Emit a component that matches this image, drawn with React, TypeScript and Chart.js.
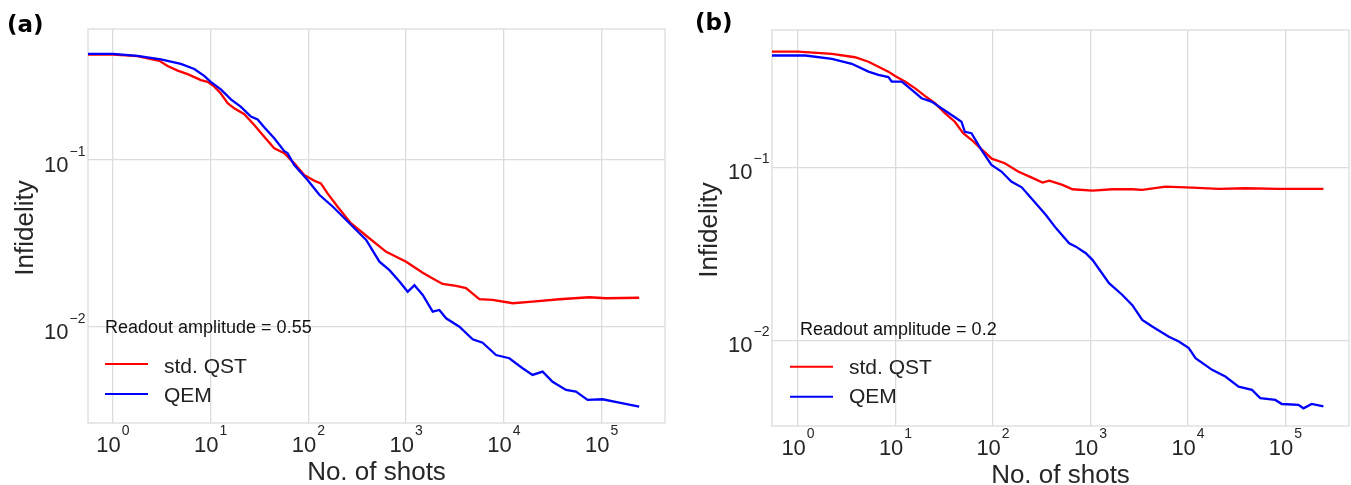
import React, { useEffect, useRef } from "react";
import { Chart, registerables } from "chart.js";

Chart.register(...registerables);

// ---------- DATA ----------
// Panel (a): readout amplitude 0.55
const shotsQstA = [0.555, 1, 1.78, 2.98, 3.62, 4.59, 5.81, 7.94, 9.29, 10.9, 12.7, 14.9, 17.4, 22.1, 27.9, 35.3, 44.7, 56.6, 71.6, 90.6, 115, 134, 157, 199, 272, 402, 625, 1000, 1479, 1871, 2366, 3243, 4102, 5610, 7674, 12300, 19680, 36900, 74820, 110900, 242700];
const infQstA = [0.428, 0.428, 0.419, 0.393, 0.366, 0.343, 0.327, 0.301, 0.294, 0.275, 0.25, 0.219, 0.204, 0.188, 0.162, 0.138, 0.1175, 0.1097, 0.0955, 0.0813, 0.0751, 0.0725, 0.0631, 0.0525, 0.0418, 0.0347, 0.0282, 0.0246, 0.0211, 0.0195, 0.0181, 0.0176, 0.0171, 0.01466, 0.01452, 0.01387, 0.01417, 0.01466, 0.01507, 0.01486, 0.01496];
const shotsQemA = [0.555, 1, 1.78, 3.09, 4.95, 6.79, 8.59, 10, 12.7, 16.1, 20.4, 25.8, 30.2, 35.3, 44.7, 56.6, 61.1, 71.6, 98, 130, 178, 263, 390, 533, 675, 855, 1038, 1216, 1479, 1871, 2188, 2564, 3508, 4797, 6067, 8318, 11376, 15560, 19680, 24950, 31550, 43250, 54700, 71940, 102300, 151700, 242700];
const infQemA = [0.432, 0.432, 0.421, 0.401, 0.376, 0.351, 0.319, 0.294, 0.265, 0.231, 0.208, 0.182, 0.175, 0.157, 0.135, 0.113, 0.11, 0.0933, 0.0759, 0.0617, 0.0525, 0.0418, 0.0332, 0.0246, 0.0219, 0.0187, 0.01626, 0.0178, 0.01555, 0.01236, 0.01265, 0.01127, 0.01004, 0.00844, 0.00805, 0.00679, 0.0065, 0.00566, 0.00516, 0.0054, 0.0047, 0.0042, 0.0041, 0.00366, 0.00369, 0.00352, 0.00333];

// Panel (b): readout amplitude 0.2
const shotsQstB = [0.541, 1, 2.23, 3.85, 5.28, 6.68, 8.45, 9.89, 12.5, 15.8, 20.0, 25.4, 32.1, 40.6, 49.4, 60.1, 76.0, 97, 132, 181, 250, 322, 378, 516, 653, 1047, 1675, 2685, 3396, 5888, 11020, 20650, 38730, 84720, 244900];
const infQstB = [0.465, 0.465, 0.451, 0.431, 0.406, 0.38, 0.356, 0.336, 0.312, 0.286, 0.258, 0.234, 0.205, 0.183, 0.157, 0.144, 0.127, 0.112, 0.1054, 0.0944, 0.087, 0.0815, 0.0837, 0.079, 0.0746, 0.0733, 0.0746, 0.0746, 0.074, 0.0772, 0.0762, 0.075, 0.0756, 0.075, 0.075];
const shotsQemB = [0.541, 1.19, 2.23, 3.56, 5.28, 6.68, 8.45, 9.14, 11.6, 14.7, 18.5, 23.4, 29.6, 37.6, 47.5, 51.4, 60.1, 76.0, 96.4, 122, 154, 197, 255, 349, 442, 604, 708, 895, 1047, 1549, 2123, 2685, 3396, 4295, 6368, 8054, 10190, 11940, 17660, 24150, 33040, 45290, 55080, 78520, 91830, 135800, 152800, 185800, 244900];
const infQemB = [0.441, 0.441, 0.422, 0.395, 0.356, 0.341, 0.331, 0.312, 0.312, 0.279, 0.25, 0.239, 0.219, 0.2, 0.183, 0.16, 0.157, 0.126, 0.103, 0.0944, 0.0826, 0.0765, 0.0648, 0.053, 0.0445, 0.0364, 0.0348, 0.0319, 0.0292, 0.0214, 0.0183, 0.016, 0.01314, 0.01203, 0.01052, 0.00986, 0.00903, 0.0079, 0.00677, 0.00619, 0.00542, 0.00519, 0.00465, 0.00454, 0.0043, 0.00425, 0.00406, 0.0043, 0.00416];

const xTickValues = [1, 10, 100, 1000, 10000, 100000];
const xTickExponents = ["0", "1", "2", "3", "4", "5"];
const yTickValues = [0.01, 0.1];
const yTickExponents = ["\u22122", "\u22121"];

const seriesLabels = ["std. QST", "QEM"];
const panelLetters = ["(a)", "(b)"];
const legendTitles = ["Readout amplitude = 0.55", "Readout amplitude = 0.2"];
const xAxisTitle = "No. of shots";
const yAxisTitle = "Infidelity";

// ---------- STYLE / LAYOUT ----------
const FONT = '"Liberation Sans", Arial, Helvetica, sans-serif';
const BOLD_FONT = '"DejaVu Sans", "Liberation Sans", sans-serif';
const seriesColors = ["#ff0000", "#0000ff"];
const GRID = "#dcdcdc";
const TEXT = "#262626";

const panels = [
  {
    left: 0, width: 676, padRight: 11, padTop: 29, yWidth: 88, xHeight: 62,
    xMin: 0.555, xMax: 446000, yMin: 0.00266, yMax: 0.609,
    data: [[shotsQstA, infQstA], [shotsQemA, infQemA]],
    legend: { titleDx: 17, titleDy: -90, lineDx0: 17, lineDx1: 60, lineDy: [-59, -29], labelDx: 76, labelDy: [-50, -21.5] },
    letter: { x: 7, y: 31.5 },
  },
  {
    left: 676, width: 675, padRight: 2, padTop: 30, yWidth: 96, xHeight: 59,
    xMin: 0.541, xMax: 448000, yMin: 0.00321, yMax: 0.619,
    data: [[shotsQstB, infQstB], [shotsQemB, infQemB]],
    legend: { titleDx: 28, titleDy: -91, lineDx0: 18, lineDx1: 61, lineDy: [-59.3, -29.3], labelDx: 77, labelDy: [-52, -23] },
    letter: { x: 19, y: 30 },
  },
];

function makePlugin(idx: number) {
  const p = panels[idx];
  return {
    id: "panelDecor" + idx,
    beforeDatasetsDraw(chart: any) {
      const { ctx, chartArea: a } = chart;
      ctx.save();
      ctx.strokeStyle = GRID;
      ctx.lineWidth = 1.3;
      ctx.strokeRect(a.left, a.top, a.right - a.left, a.bottom - a.top);
      ctx.restore();
    },
    afterDraw(chart: any) {
      const { ctx, chartArea: a } = chart;
      const xs = chart.scales.x;
      const ys = chart.scales.y;
      ctx.save();
      ctx.fillStyle = TEXT;
      ctx.textBaseline = "alphabetic";

      // x tick labels: 10^n
      xTickValues.forEach((v, i) => {
        const px = xs.getPixelForValue(v);
        ctx.font = `22px ${FONT}`;
        const w10 = ctx.measureText("10").width;
        ctx.font = `14px ${FONT}`;
        const we = ctx.measureText(xTickExponents[i]).width;
        const x0 = px - (w10 + 1 + we) / 2;
        ctx.textAlign = "left";
        ctx.font = `22px ${FONT}`;
        ctx.fillText("10", x0, a.bottom + 29);
        ctx.font = `14px ${FONT}`;
        ctx.fillText(xTickExponents[i], x0 + w10 + 1, a.bottom + 11.5);
      });

      // y tick labels
      yTickValues.forEach((v, i) => {
        const py = ys.getPixelForValue(v);
        ctx.textAlign = "right";
        ctx.font = `14px ${FONT}`;
        const we = ctx.measureText(yTickExponents[i]).width;
        const xr = a.left - 2.5;
        ctx.fillText(yTickExponents[i], xr, py - 4);
        ctx.font = `22px ${FONT}`;
        ctx.fillText("10", xr - we - 1, py + 12);
      });

      // axis titles
      ctx.font = `26px ${FONT}`;
      ctx.textAlign = "center";
      ctx.fillText(xAxisTitle, (a.left + a.right) / 2, a.bottom + 57);
      ctx.save();
      ctx.translate(a.left - 55, (a.top + a.bottom) / 2 + 2);
      ctx.rotate(-Math.PI / 2);
      ctx.fillText(yAxisTitle, 0, 0);
      ctx.restore();

      // legend
      const L = p.legend;
      ctx.fillStyle = "#111";
      ctx.textAlign = "left";
      ctx.font = `18px ${FONT}`;
      ctx.fillText(legendTitles[idx], a.left + L.titleDx, a.bottom + L.titleDy);
      chart.data.datasets.forEach((ds: any, i: number) => {
        ctx.strokeStyle = ds.borderColor;
        ctx.lineWidth = 2;
        ctx.beginPath();
        ctx.moveTo(a.left + L.lineDx0, a.bottom + L.lineDy[i]);
        ctx.lineTo(a.left + L.lineDx1, a.bottom + L.lineDy[i]);
        ctx.stroke();
        ctx.fillStyle = "#222";
        ctx.font = `21px ${FONT}`;
        ctx.fillText(ds.label, a.left + L.labelDx, a.bottom + L.labelDy[i]);
      });

      // panel letter
      ctx.fillStyle = "#000";
      ctx.font = `bold 23px ${BOLD_FONT}`;
      ctx.fillText(panelLetters[idx], p.letter.x, p.letter.y);
      ctx.restore();
    },
  };
}

function Panel({ idx }: { idx: number }) {
  const ref = useRef<HTMLCanvasElement | null>(null);
  useEffect(() => {
    const p = panels[idx];
    const canvas = ref.current!;
    const chart = new Chart(canvas, {
      type: "line",
      data: {
        datasets: p.data.map(([xs, ys], i) => ({
          label: seriesLabels[i],
          data: xs.map((x: number, k: number) => ({ x, y: ys[k] })),
          borderColor: seriesColors[i],
          backgroundColor: seriesColors[i],
          borderWidth: 2.3,
          pointRadius: 0,
          tension: 0,
          fill: false,
          order: i === 1 ? 0 : 1,
        })),
      },
      options: {
        animation: false,
        responsive: false,
        events: [],
        layout: { padding: { left: 0, top: p.padTop, right: p.padRight, bottom: 0 } },
        plugins: { legend: { display: false }, tooltip: { enabled: false }, title: { display: false } },
        scales: {
          x: {
            type: "logarithmic",
            min: p.xMin,
            max: p.xMax,
            ticks: { display: false },
            grid: { color: GRID, lineWidth: 1.3, drawTicks: false },
            border: { display: false },
            afterBuildTicks: (s: any) => { s.ticks = xTickValues.map((v) => ({ value: v })); },
            afterFit: (s: any) => { s.height = p.xHeight; },
          },
          y: {
            type: "logarithmic",
            min: p.yMin,
            max: p.yMax,
            ticks: { display: false },
            grid: { color: GRID, lineWidth: 1.3, drawTicks: false },
            border: { display: false },
            afterBuildTicks: (s: any) => { s.ticks = yTickValues.map((v) => ({ value: v })); },
            afterFit: (s: any) => { s.width = p.yWidth; },
          },
        },
      } as any,
      plugins: [makePlugin(idx)],
    });
    return () => chart.destroy();
  }, [idx]);
  const p = panels[idx];
  return (
    <div style={{ position: "absolute", left: p.left, top: 0, width: p.width, height: 485 }}>
      <canvas ref={ref} width={p.width} height={485} style={{ display: "block" }} />
    </div>
  );
}

export default function App() {
  return (
    <div style={{ position: "absolute", left: 0, top: 0, width: 1351, height: 485, background: "#fff" }}>
      <Panel idx={0} />
      <Panel idx={1} />
    </div>
  );
}
